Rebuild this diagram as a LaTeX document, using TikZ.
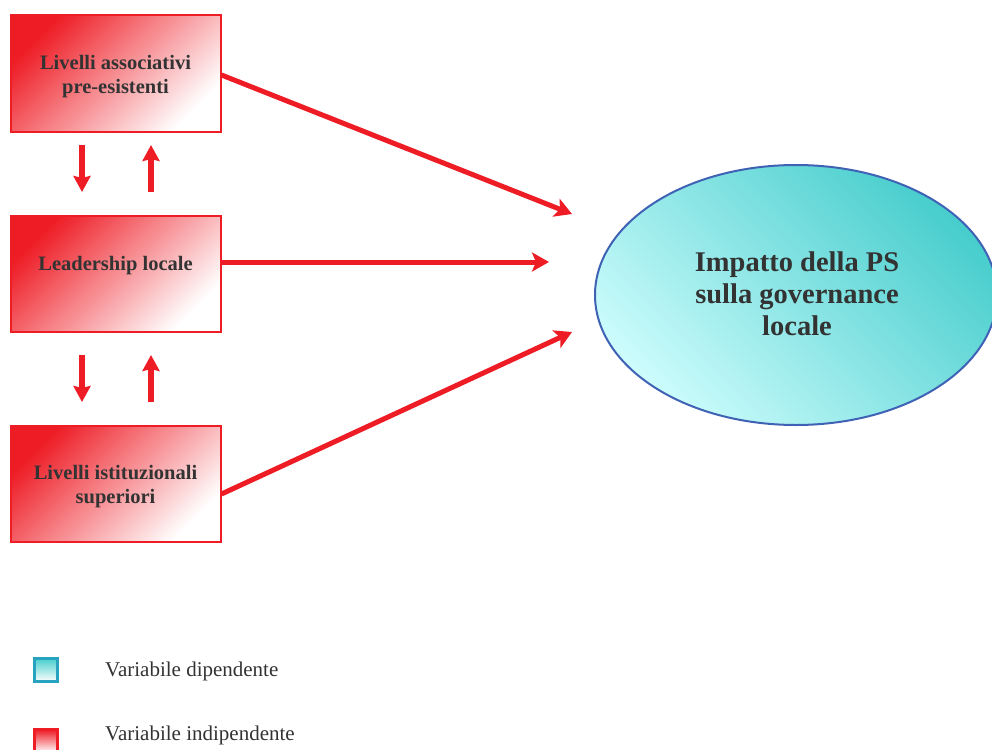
\documentclass[tikz,border=0pt]{standalone}
\usepackage{fontspec}
\setmainfont{Liberation Serif}
\usetikzlibrary{arrows.meta,shapes.geometric}
\definecolor{rd}{HTML}{EE1C25}
\definecolor{txt}{HTML}{333333}
\definecolor{cyd}{HTML}{48CDCD}
\definecolor{cyl}{HTML}{CCFCFC}
\definecolor{elb}{HTML}{3F62B5}
\definecolor{lgb}{HTML}{27A3BF}
\newcommand{\downstrut}{\rule{0pt}{20.5pt}}
\tikzset{
  varbox/.style={draw=rd, line width=2pt, top color=rd, bottom color=white, shading angle=45,
    minimum width=210pt, minimum height=116pt, inner sep=0pt, align=center,
    font=\bfseries\fontsize{20.5}{24}\selectfont, text=txt},
  bigarrow/.style={draw=rd, line width=5pt, -{Stealth[length=17pt,width=19pt,inset=4pt]}},
  smallarrow/.style={draw=rd, line width=5.5pt, -{Stealth[length=16pt,width=17pt,inset=2pt]}},
  legtext/.style={anchor=west, font=\fontsize{21}{24}\selectfont, text=txt, inner sep=0pt},
  legbox/.style={line width=3pt, shading angle=45, bottom color=white,
    minimum width=23pt, minimum height=23pt, inner sep=0pt}
}
\begin{document}
\begin{tikzpicture}[x=1pt,y=-1pt]
\clip (0,0) rectangle (992,749);
\fill[white] (0,0) rectangle (992,749);
\node[varbox] (b1) at (115.5,73.5) {\downstrut Livelli associativi\\pre-esistenti};
\node[varbox] (b2) at (115.5,273.5) {Leadership locale\\[-10pt]\strut};
\node[varbox] (b3) at (115.5,483.5) {\downstrut Livelli istituzionali\\superiori};
\node[draw=elb, line width=2pt, ellipse, minimum width=402pt, minimum height=260pt, inner sep=0pt,
  top color=cyd, bottom color=cyl, shading angle=-45] (el) at (796,295) {};
\node[align=center, font=\bfseries\fontsize{28.5}{32}\selectfont, text=txt] (elt) at (797,294) {Impatto della PS\\sulla governance\\locale};
\coordinate (t1) at (572,214);
\coordinate (t2) at (549,262);
\coordinate (t3) at (572,332);
\draw[bigarrow] (b1.east |- 0,75) -- (t1);
\draw[bigarrow] (b2.east |- 0,262) -- (t2);
\draw[bigarrow] (b3.east |- 0,494) -- (t3);
\coordinate (d1s) at (82,145); \coordinate (d1e) at (82,192);
\coordinate (u1s) at (151,192); \coordinate (u1e) at (151,145);
\coordinate (d2s) at (82,355); \coordinate (d2e) at (82,402);
\coordinate (u2s) at (151,402); \coordinate (u2e) at (151,355);
\draw[smallarrow] (d1s) -- (d1e);
\draw[smallarrow] (u1s) -- (u1e);
\draw[smallarrow] (d2s) -- (d2e);
\draw[smallarrow] (u2s) -- (u2e);
\node[legbox, draw=lgb, top color=cyd] (lg1) at (46,670) {};
\node[legbox, draw=rd, top color=rd] (lg2) at (46,741) {};
\node[legtext] (l1) at (105,671) {Variabile dipendente};
\node[legtext] (l2) at (105,735) {Variabile indipendente};
\end{tikzpicture}
\end{document}
